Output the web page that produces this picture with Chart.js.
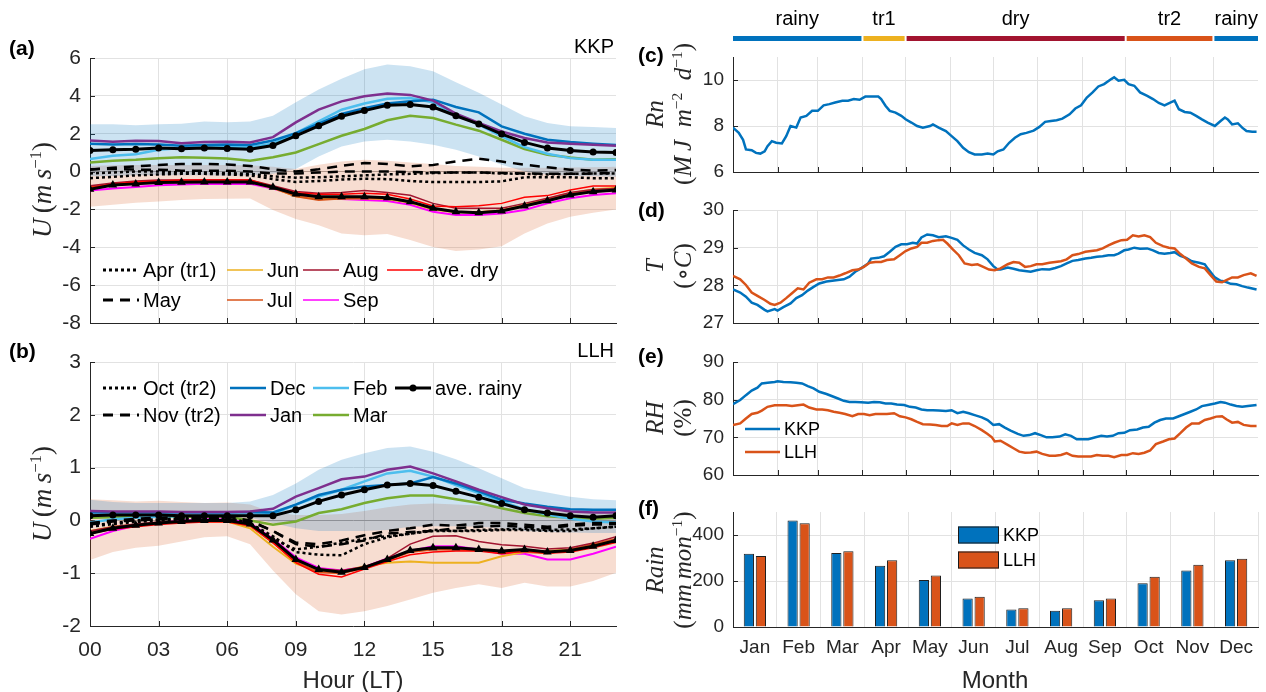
<!DOCTYPE html>
<html lang="en">
<head>
<meta charset="UTF-8">
<title>KKP / LLH - vento diurno e clima anual</title>
<script src="https://cdn.jsdelivr.net/npm/chart.js"></script>
<style>
  body { margin: 0; background: #fff; }
  #fig { position: relative; width: 1266px; height: 692px; overflow: hidden; font-family: "Liberation Sans", Arial, sans-serif; color: #262626; }
  #fig canvas { position: absolute; }
  .tag { position: absolute; font-weight: bold; font-size: 21px; color: #000; line-height: 22px; }
  .site { position: absolute; font-size: 20px; color: #000; line-height: 22px; }
  .ylab { position: absolute; transform: translate(-50%, -50%) rotate(-90deg); white-space: nowrap; text-align: center;
          font-family: "Liberation Serif", "DejaVu Serif", serif; font-size: 27px; line-height: 28px; color: #262626; }
  .ylab.two { font-size: 25px; }
  .ylab sup { font-size: 0.62em; vertical-align: 0.6em; line-height: 0; }
  .xlab { position: absolute; transform: translate(-50%, -50%); font-size: 24px; white-space: nowrap; color: #262626; }
</style>
</head>
<body>
<div id="fig">
  <canvas id="cA" width="640" height="340" style="left:0;top:0"></canvas>
  <canvas id="cB" width="640" height="352" style="left:0;top:340px"></canvas>
  <canvas id="cC" width="626" height="180" style="left:640px;top:0"></canvas>
  <canvas id="cD" width="626" height="151" style="left:640px;top:180px"></canvas>
  <canvas id="cE" width="626" height="152" style="left:640px;top:331px"></canvas>
  <canvas id="cF" width="626" height="209" style="left:640px;top:483px"></canvas>

  <div class="tag" style="left:9px;top:37px">(a)</div>
  <div class="tag" style="left:9px;top:340px">(b)</div>
  <div class="tag" style="left:638px;top:44px">(c)</div>
  <div class="tag" style="left:638px;top:199px">(d)</div>
  <div class="tag" style="left:638px;top:345px">(e)</div>
  <div class="tag" style="left:638px;top:497px">(f)</div>
  <div class="site" style="right:652px;top:35px">KKP</div>
  <div class="site" style="right:652px;top:339px">LLH</div>

  <div class="ylab" style="left:42px;top:190px"><i>U</i>&thinsp;(<i>m</i>&thinsp;<i>s</i><sup>−1</sup>)</div>
  <div class="ylab" style="left:42px;top:494px"><i>U</i>&thinsp;(<i>m</i>&thinsp;<i>s</i><sup>−1</sup>)</div>
  <div class="ylab two" style="left:669px;top:114px"><i>Rn</i><br>(<i>M</i>&thinsp;<i>J</i>&ensp;<i>m</i><sup>−2</sup>&ensp;<i>d</i><sup>−1</sup>)</div>
  <div class="ylab two" style="left:669px;top:266px"><i>T</i><br>(∘<i>C</i>)</div>
  <div class="ylab two" style="left:669px;top:418px"><i>RH</i><br>(%)</div>
  <div class="ylab two" style="left:669px;top:570px"><i>Rain</i><br>(<i>mm</i>&thinsp;<i>mon</i><sup>−1</sup>)</div>
  <div class="xlab" style="left:353px;top:680px">Hour (LT)</div>
  <div class="xlab" style="left:995px;top:680px">Month</div>
</div>

<script>
// ---------- diurnal wind, hours 00..23 ----------
const hours = [0,1,2,3,4,5,6,7,8,9,10,11,12,13,14,15,16,17,18,19,20,21,22,23];
const hourTicks = [0,3,6,9,12,15,18,21];
const uTicksA = [-8,-6,-4,-2,0,2,4,6];
const uTicksB = [-2,-1,0,1,2,3];

// KKP
const kkpWetHi = [2.5,2.5,2.45,2.5,2.53,2.65,2.6,2.65,2.95,3.66,4.33,4.9,5.4,5.66,5.57,5.3,4.72,4.16,3.54,2.92,2.57,2.39,2.36,2.3];
const kkpWetLo = [-0.25,-0.23,-0.2,-0.2,-0.2,-0.2,-0.22,-0.2,-0.12,0.14,0.8,1.33,1.59,1.68,1.59,1.42,1.15,0.8,0.36,0.0,-0.15,-0.22,-0.25,-0.27];
const kkpDryHi = [0.3,0.33,0.35,0.35,0.35,0.35,0.35,0.33,0.25,0.13,0.36,0.53,0.62,0.57,0.48,0.4,0.3,0.25,0.2,0.2,0.2,0.22,0.23,0.25];
const kkpDryLo = [-1.86,-1.75,-1.65,-1.58,-1.5,-1.45,-1.43,-1.42,-2.03,-2.5,-2.83,-3.27,-3.36,-3.3,-3.62,-3.98,-4.19,-4.12,-3.94,-3.27,-2.74,-2.39,-2.17,-2.0];
const kkpDec = [1.47,1.43,1.45,1.43,1.36,1.41,1.43,1.41,1.64,2.03,2.53,3.04,3.35,3.6,3.72,3.8,3.41,3.13,2.39,2.0,1.68,1.56,1.47,1.4];
const kkpJan = [1.64,1.57,1.63,1.61,1.49,1.56,1.57,1.54,1.82,2.6,3.27,3.71,3.98,4.13,4.05,3.75,3.06,2.57,2.12,1.77,1.54,1.47,1.42,1.36];
const kkpFeb = [0.67,0.83,0.92,1.15,1.24,1.27,1.33,1.29,1.47,2.03,2.65,3.27,3.6,3.85,3.89,3.66,3.0,2.48,1.86,1.29,0.94,0.71,0.62,0.62];
const kkpMar = [0.48,0.57,0.62,0.71,0.76,0.73,0.69,0.57,0.76,1.01,1.45,1.89,2.25,2.71,2.95,2.83,2.48,2.16,1.68,1.19,0.89,0.74,0.62,0.65];
const kkpRainy = [1.11,1.15,1.18,1.24,1.2,1.24,1.22,1.18,1.38,1.89,2.42,2.92,3.22,3.5,3.54,3.41,2.95,2.51,1.98,1.54,1.24,1.11,1.03,1.01];
const kkpApr = [-0.35,-0.28,-0.2,-0.15,-0.12,-0.12,-0.15,-0.2,-0.4,-0.55,-0.5,-0.42,-0.38,-0.4,-0.5,-0.55,-0.55,-0.55,-0.52,-0.3,-0.3,-0.3,-0.35,-0.35];
const kkpMay = [0.1,0.2,0.28,0.35,0.4,0.4,0.38,0.3,0.12,0.0,0.12,0.3,0.45,0.4,0.28,0.35,0.53,0.68,0.53,0.36,0.23,0.1,0.05,0.08];
const kkpOct = [-0.1,-0.05,0.0,0.0,-0.05,-0.05,-0.08,-0.12,-0.25,-0.32,-0.3,-0.25,-0.2,-0.15,-0.12,-0.08,-0.05,-0.05,-0.1,-0.12,-0.15,-0.12,-0.1,-0.1];
const kkpNov = [0.12,0.15,0.1,0.1,0.05,0.05,0.05,0.0,-0.1,-0.1,-0.05,0.0,0.0,0.0,-0.02,-0.05,-0.05,-0.05,-0.08,-0.1,-0.12,-0.12,-0.1,-0.08];
const kkpJun = [-0.85,-0.72,-0.63,-0.56,-0.55,-0.53,-0.53,-0.55,-0.87,-1.3,-1.45,-1.42,-1.42,-1.45,-1.65,-2.0,-2.15,-2.15,-2.05,-1.75,-1.45,-1.15,-0.95,-0.85];
const kkpJul = [-0.8,-0.68,-0.6,-0.55,-0.52,-0.5,-0.5,-0.52,-0.85,-1.3,-1.5,-1.42,-1.4,-1.42,-1.6,-1.95,-2.12,-2.15,-2.05,-1.8,-1.5,-1.2,-1.0,-0.9];
const kkpAug = [-0.75,-0.6,-0.5,-0.45,-0.45,-0.43,-0.43,-0.45,-0.75,-1.05,-1.15,-1.1,-1.0,-1.1,-1.25,-1.68,-1.94,-1.94,-1.94,-1.68,-1.41,-1.11,-0.95,-0.9];
const kkpSep = [-1.0,-0.9,-0.82,-0.72,-0.68,-0.65,-0.65,-0.65,-0.9,-1.25,-1.42,-1.45,-1.5,-1.55,-1.75,-2.12,-2.3,-2.3,-2.21,-2.03,-1.68,-1.41,-1.24,-1.15];
const kkpAveDry = [-0.85,-0.65,-0.55,-0.5,-0.45,-0.45,-0.45,-0.45,-0.8,-1.12,-1.2,-1.2,-1.15,-1.2,-1.45,-1.82,-1.86,-1.8,-1.68,-1.36,-1.27,-0.97,-0.76,-0.76];
const kkpDryTri = [-0.94,-0.71,-0.65,-0.58,-0.57,-0.55,-0.55,-0.55,-0.83,-1.18,-1.33,-1.33,-1.33,-1.38,-1.59,-1.94,-2.12,-2.17,-2.08,-1.82,-1.54,-1.24,-1.06,-0.97];

// LLH
const llhWetHi = [0.39,0.35,0.33,0.33,0.33,0.33,0.33,0.36,0.48,0.7,0.96,1.15,1.27,1.37,1.4,1.3,1.16,0.99,0.8,0.61,0.53,0.45,0.4,0.38];
const llhWetLo = [0.08,0.1,0.1,0.1,0.1,0.1,0.1,0.05,-0.05,-0.15,-0.2,-0.2,-0.2,-0.18,-0.12,-0.11,-0.11,-0.12,-0.15,-0.2,-0.22,-0.23,-0.24,-0.24];
const llhDryHi = [0.4,0.38,0.36,0.37,0.35,0.33,0.34,0.3,0.15,0.1,0.1,0.12,0.18,0.25,0.3,0.32,0.3,0.28,0.25,0.2,0.18,0.17,0.17,0.17];
const llhDryLo = [-0.75,-0.6,-0.52,-0.48,-0.4,-0.32,-0.3,-0.45,-0.95,-1.4,-1.72,-1.78,-1.72,-1.62,-1.5,-1.37,-1.28,-1.21,-1.28,-1.18,-1.25,-1.25,-1.15,-0.99];
const llhDec = [0.15,0.15,0.15,0.15,0.15,0.15,0.15,0.16,0.15,0.3,0.48,0.58,0.64,0.67,0.7,0.82,0.7,0.55,0.39,0.32,0.26,0.21,0.2,0.2];
const llhJan = [0.18,0.17,0.17,0.17,0.16,0.16,0.16,0.17,0.22,0.45,0.61,0.78,0.83,0.96,1.02,0.89,0.74,0.58,0.44,0.3,0.23,0.17,0.15,0.15];
const llhFeb = [-0.04,0.02,0.05,0.07,0.08,0.1,0.1,0.1,0.12,0.3,0.45,0.58,0.74,0.89,0.94,0.83,0.67,0.52,0.36,0.21,0.11,0.03,-0.02,-0.04];
const llhMar = [0.05,0.06,0.07,0.07,0.07,0.07,0.07,0.0,-0.08,-0.02,0.14,0.21,0.33,0.42,0.47,0.47,0.4,0.33,0.23,0.14,0.08,0.05,0.03,0.05];
const llhRainy = [0.09,0.1,0.1,0.1,0.09,0.09,0.09,0.09,0.09,0.2,0.36,0.48,0.58,0.67,0.7,0.66,0.55,0.44,0.32,0.2,0.14,0.09,0.06,0.09];
const llhApr = [-0.12,-0.07,-0.03,0.0,0.02,0.03,0.03,-0.05,-0.35,-0.55,-0.5,-0.42,-0.35,-0.3,-0.25,-0.18,-0.2,-0.18,-0.17,-0.16,-0.18,-0.17,-0.15,-0.12];
const llhMay = [-0.08,-0.02,0.0,0.02,0.03,0.03,0.02,-0.02,-0.2,-0.45,-0.5,-0.45,-0.38,-0.25,-0.22,-0.2,-0.15,-0.12,-0.1,-0.12,-0.15,-0.1,-0.08,-0.07];
const llhOct = [-0.1,-0.05,0.0,0.02,0.04,0.05,0.05,-0.05,-0.3,-0.6,-0.65,-0.66,-0.45,-0.32,-0.25,-0.2,-0.2,-0.2,-0.18,-0.18,-0.2,-0.2,-0.15,-0.12];
const llhNov = [-0.05,0.0,0.03,0.05,0.06,0.07,0.07,0.0,-0.2,-0.42,-0.45,-0.38,-0.28,-0.2,-0.15,-0.08,-0.1,-0.05,-0.05,-0.08,-0.12,-0.08,-0.05,-0.05];
const llhJun = [-0.2,-0.12,-0.08,-0.05,-0.03,-0.02,-0.02,-0.15,-0.5,-0.82,-0.97,-0.97,-0.87,-0.8,-0.78,-0.8,-0.8,-0.8,-0.68,-0.6,-0.58,-0.55,-0.48,-0.4];
const llhJul = [-0.22,-0.14,-0.09,-0.05,-0.03,-0.01,-0.01,-0.1,-0.42,-0.78,-0.98,-1.0,-0.9,-0.75,-0.6,-0.55,-0.55,-0.57,-0.6,-0.6,-0.62,-0.55,-0.45,-0.35];
const llhAug = [-0.2,-0.12,-0.07,-0.03,-0.01,0.0,0.0,-0.08,-0.4,-0.75,-0.92,-0.95,-0.88,-0.72,-0.45,-0.3,-0.29,-0.4,-0.46,-0.49,-0.54,-0.52,-0.43,-0.31];
const llhSep = [-0.35,-0.2,-0.1,-0.05,0.0,0.02,0.02,-0.05,-0.35,-0.7,-0.9,-0.95,-0.88,-0.72,-0.58,-0.49,-0.49,-0.55,-0.63,-0.63,-0.74,-0.74,-0.63,-0.5];
const llhAveDry = [-0.25,-0.17,-0.12,-0.08,-0.05,-0.03,-0.03,-0.1,-0.42,-0.8,-1.02,-1.07,-0.92,-0.78,-0.65,-0.6,-0.58,-0.58,-0.63,-0.58,-0.62,-0.6,-0.52,-0.42];
const llhDryTri = [-0.25,-0.15,-0.09,-0.05,-0.02,0.0,0.0,-0.07,-0.37,-0.74,-0.93,-0.98,-0.89,-0.74,-0.57,-0.52,-0.52,-0.55,-0.58,-0.55,-0.6,-0.57,-0.49,-0.38];

// ---------- annual cycle, day of year ----------
const monthStart = [1,32,60,91,121,152,182,213,244,274,305,335];
const seasonName = ['rainy','tr1','dry','tr2','rainy'];
const seasonFrom = [1,91,121,274,335];
const seasonTo = [91,121,274,335,366];
const seasonColor = ['#0072BD','#EDB120','#A2142F','#D95319','#0072BD'];

const rnTicks = [6,8,10];
const rnDay = [1,5,8,10,14,17,20,23,25,28,31,35,38,41,45,48,52,56,60,64,68,72,77,81,85,89,93,97,102,104,107,110,114,118,121,125,129,133,138,140,144,149,153,157,161,165,169,174,178,182,185,189,193,197,201,205,210,214,218,222,226,230,235,239,243,247,251,255,259,264,266,269,273,276,280,284,289,293,297,301,305,308,311,315,319,323,327,331,336,340,343,345,348,352,355,358,362,365];
const rnVal = [7.93,7.7,7.4,6.98,6.95,6.83,6.8,6.9,7.12,7.34,7.27,7.24,7.56,8.0,7.93,8.37,8.44,8.66,8.66,8.9,8.95,9.02,9.1,9.1,9.17,9.14,9.28,9.28,9.28,9.17,8.88,8.66,8.58,8.44,8.29,8.15,8.0,7.93,8.0,8.07,7.93,7.78,7.56,7.34,7.05,6.86,6.76,6.76,6.8,6.76,6.9,6.98,7.27,7.49,7.64,7.7,7.8,7.96,8.18,8.22,8.25,8.32,8.51,8.76,8.9,9.24,9.46,9.72,9.82,10.04,10.12,9.97,10.01,9.82,9.75,9.46,9.31,9.17,9.0,8.9,9.02,9.1,8.73,8.61,8.58,8.44,8.29,8.15,8.0,8.22,8.37,8.29,8.07,8.12,7.93,7.78,7.75,7.75];

const tTicks = [27,28,29,30];
const tKkpDay = [1,6,10,14,18,23,25,30,32,36,41,45,49,53,57,61,66,70,74,78,82,86,90,95,97,102,106,110,114,118,122,126,129,132,136,140,144,149,153,157,161,165,169,174,178,182,185,187,192,196,200,204,208,212,216,221,225,229,233,237,241,246,250,254,258,262,266,269,273,276,280,284,289,293,297,301,305,308,312,316,320,325,329,331,336,340,343,347,351,355,359,365];
const tKkp = [27.89,27.81,27.7,27.54,27.48,27.35,27.31,27.37,27.33,27.42,27.52,27.66,27.74,27.86,27.96,28.05,28.1,28.12,28.14,28.16,28.23,28.36,28.45,28.58,28.71,28.73,28.77,28.89,29.02,29.09,29.09,29.13,29.11,29.27,29.35,29.33,29.28,29.3,29.26,29.21,29.06,28.95,28.86,28.8,28.69,28.51,28.42,28.42,28.47,28.44,28.4,28.38,28.36,28.4,28.43,28.42,28.46,28.51,28.58,28.65,28.67,28.71,28.73,28.76,28.77,28.8,28.8,28.84,28.93,28.95,29.0,28.97,28.98,28.93,28.86,28.84,28.86,28.88,28.78,28.73,28.64,28.6,28.56,28.45,28.21,28.12,28.1,28.04,28.03,27.98,27.94,27.89];
const tLlhDay = [1,6,10,14,18,23,27,30,34,38,42,46,50,54,59,63,67,71,75,79,84,88,92,96,100,104,108,113,117,121,125,129,132,136,140,144,147,150,154,158,162,167,171,175,179,183,187,192,196,200,204,208,212,216,221,225,229,233,237,241,246,250,254,258,262,266,271,275,279,283,287,291,295,300,304,308,312,316,320,325,329,333,337,341,344,348,352,356,361,365];
const tLlh = [28.25,28.16,28.01,27.81,27.72,27.61,27.51,27.48,27.54,27.66,27.79,27.92,27.89,28.07,28.16,28.16,28.21,28.21,28.26,28.32,28.4,28.42,28.49,28.6,28.62,28.62,28.67,28.69,28.8,28.91,28.98,29.02,29.13,29.13,29.18,29.2,29.21,29.11,28.95,28.8,28.58,28.54,28.56,28.49,28.42,28.4,28.45,28.56,28.62,28.6,28.49,28.51,28.56,28.56,28.6,28.62,28.64,28.69,28.8,28.83,28.89,28.91,28.93,28.98,29.06,29.13,29.2,29.21,29.33,29.3,29.33,29.28,29.13,29.04,29.0,28.98,28.83,28.71,28.58,28.49,28.45,28.27,28.1,28.08,28.14,28.21,28.21,28.27,28.32,28.25];

const rhTicks = [60,70,80,90];
const rhKkpDay = [1,6,10,14,18,21,25,30,32,36,41,45,49,53,57,61,66,70,74,78,82,86,90,95,99,103,107,111,115,120,124,128,132,136,140,144,149,153,157,161,165,169,174,178,182,186,190,194,199,203,207,211,215,219,223,228,232,236,240,244,248,253,257,261,265,269,273,277,282,286,290,294,298,302,307,311,315,319,323,327,331,336,340,343,347,351,355,359,365];
const rhKkp = [78.8,79.9,81.2,82.4,83.2,84.3,84.5,84.7,84.9,84.7,84.6,84.5,84.3,83.6,83.0,82.1,81.5,80.9,80.3,79.7,79.4,79.4,79.3,79.2,79.4,79.3,79.0,79.0,78.7,78.6,78.1,77.9,77.4,77.2,77.2,77.1,77.0,77.2,76.4,76.8,76.4,75.9,75.3,74.6,73.3,73.5,72.6,71.8,70.9,70.4,70.6,71.1,70.6,70.0,70.0,70.2,70.8,70.4,69.5,69.5,69.5,70.0,70.4,70.2,70.4,71.1,71.2,71.9,72.1,72.6,72.8,73.9,74.6,75.0,75.0,75.6,76.2,76.8,77.4,78.3,78.6,79.0,79.4,79.2,78.7,78.3,78.1,78.3,78.6];
const rhLlhDay = [1,6,10,14,18,21,25,30,34,38,42,46,50,54,59,63,67,71,75,79,84,88,92,96,100,104,108,113,117,121,125,129,133,138,142,146,150,153,157,161,165,169,174,178,181,183,187,192,196,200,204,208,212,216,221,225,229,233,237,241,246,250,254,258,262,266,271,275,279,283,287,291,295,300,304,308,312,316,320,325,329,333,337,341,344,348,352,356,361,365];
const rhLlh = [73.3,73.7,75.0,76.2,76.5,77.1,78.1,78.5,78.5,78.5,78.3,78.5,78.7,77.9,77.4,77.4,77.2,76.8,76.5,76.2,75.6,76.2,76.2,75.9,76.2,76.2,76.2,76.4,75.6,75.3,74.8,74.1,73.5,73.4,73.3,73.0,73.0,73.7,73.3,73.7,73.7,73.0,71.9,70.9,70.0,68.9,69.1,68.0,67.1,66.2,65.9,66.0,66.2,65.6,65.1,65.1,65.3,65.8,65.1,64.9,64.9,64.9,65.3,65.1,65.1,64.7,65.3,65.3,65.8,65.6,65.9,66.5,68.2,68.9,69.5,69.7,71.1,72.6,73.7,73.7,74.6,75.0,75.5,75.6,74.8,73.9,74.1,73.3,73.0,73.0];

const months = ['Jan','Feb','Mar','Apr','May','Jun','Jul','Aug','Sep','Oct','Nov','Dec'];
const rainTicks = [0,200,400];
const rainKkp = [319,463,322,266,204,124,76,71,116,190,246,290];
const rainLlh = [309,451,329,290,224,132,81,81,124,219,271,297];

// ---------- styling ----------
const ink = '#262626';
const gridC = '#e2e2e2';
const sans = '"Liberation Sans", Arial, sans-serif';
const blue = '#0072BD', orange = '#D95319';
const dotted = [3, 3], dashed = [10, 7];

// legend drawn inside the plot area, positions relative to chartArea
const keyPlugin = {
  id: 'key',
  afterDraw(chart, args, o) {
    if (!o.items) return;
    const ctx = chart.ctx, a = chart.chartArea;
    ctx.save();
    ctx.font = o.size + 'px ' + sans;
    ctx.textBaseline = 'middle';
    o.items.forEach(it => {
      const x = a.left + it.x, y = a.top + it.y;
      if (it.box) {
        ctx.fillStyle = it.color;
        ctx.fillRect(x, y - 8.5, o.len, 17);
        ctx.strokeStyle = '#1a1a1a'; ctx.lineWidth = 1;
        ctx.strokeRect(x + 0.5, y - 8, o.len - 1, 16);
      } else {
        ctx.strokeStyle = it.color; ctx.lineWidth = it.width;
        ctx.setLineDash(it.dash || []);
        ctx.beginPath(); ctx.moveTo(x, y); ctx.lineTo(x + o.len, y); ctx.stroke();
        ctx.setLineDash([]);
        if (it.dot) {
          ctx.fillStyle = it.color;
          ctx.beginPath(); ctx.arc(x + o.len / 2, y, 3.5, 0, Math.PI * 2); ctx.fill();
        }
      }
      ctx.fillStyle = '#000';
      ctx.fillText(it.text, x + o.len + 4, y + 1);
    });
    ctx.restore();
  }
};

// short tick marks pointing into the plot
const inTicks = {
  id: 'inTicks',
  beforeDatasetsDraw(chart, args, o) {
    const { ctx, chartArea: a, scales } = chart;
    ctx.save();
    ctx.strokeStyle = ink; ctx.lineWidth = 1;
    ctx.beginPath();
    if (o.x !== false) {
      scales.x.ticks.forEach(t => {
        const p = Math.round(scales.x.getPixelForValue(t.value)) + 0.5;
        ctx.moveTo(p, a.bottom); ctx.lineTo(p, a.bottom - 5);
      });
    }
    scales.y.ticks.forEach(t => {
      const p = Math.round(scales.y.getPixelForValue(t.value)) + 0.5;
      ctx.moveTo(a.left, p); ctx.lineTo(a.left + 5, p);
    });
    ctx.stroke();
    ctx.restore();
  }
};

// season strip above the Rn panel
const seasonStrip = {
  id: 'seasonStrip',
  afterDraw(chart) {
    const ctx = chart.ctx, xs = chart.scales.x, top = chart.chartArea.top;
    ctx.save();
    ctx.font = '20px ' + sans;
    ctx.textAlign = 'center';
    ctx.textBaseline = 'middle';
    seasonName.forEach((name, i) => {
      const x0 = xs.getPixelForValue(seasonFrom[i]) + (i ? 1 : 0);
      const x1 = xs.getPixelForValue(seasonTo[i]) - (i < seasonName.length - 1 ? 1 : 0);
      ctx.fillStyle = seasonColor[i];
      ctx.fillRect(x0, top - 21, x1 - x0, 5);
      ctx.fillStyle = '#000';
      ctx.fillText(name, (x0 + x1) / 2, top - 38);
    });
    ctx.restore();
  }
};

function pts(xs, ys) { return xs.map((x, i) => ({ x: x, y: ys[i] })); }

function line(xs, ys, color, width, dash, order, extra) {
  return Object.assign({
    data: pts(xs, ys), borderColor: color, borderWidth: width, borderDash: dash || [],
    pointRadius: 0, fill: false, tension: 0, order: order
  }, extra || {});
}

function band(ys, fill, color, order) {
  return { data: pts(hours, ys), borderColor: 'rgba(0,0,0,0)', borderWidth: 1, pointRadius: 0,
           fill: fill, backgroundColor: color, order: order };
}

function uSets(s) {
  return [
    band(s.wetLo, false, 'rgba(0,0,0,0)', 90),
    band(s.wetHi, '-1', 'rgba(0,114,189,0.2)', 90),
    band(s.dryLo, false, 'rgba(0,0,0,0)', 91),
    band(s.dryHi, '-1', 'rgba(217,83,25,0.2)', 91),
    line(hours, s.mar, '#77AC30', 2.5, null, 30),
    line(hours, s.feb, '#4DBEEE', 2.5, null, 29),
    line(hours, s.dec, '#0072BD', 2.5, null, 28),
    line(hours, s.jan, '#7E2F8E', 2.5, null, 27),
    line(hours, s.sep, '#FF00FF', 2, null, 26),
    line(hours, s.jun, '#EDB120', 2, null, 25),
    line(hours, s.jul, '#D95319', 2, null, 24),
    line(hours, s.aug, '#A2142F', 1.5, null, 23),
    line(hours, s.oct, '#000', 2.5, dotted, 20),
    line(hours, s.nov, '#000', 2.5, dashed, 19),
    line(hours, s.apr, '#000', 2.5, dotted, 18),
    line(hours, s.may, '#000', 2.5, dashed, 17),
    line(hours, s.aveDry, '#FF0000', 1.5, null, 10),
    line(hours, s.rainy, '#000', 3, null, 5, { pointRadius: 3.5, pointBackgroundColor: '#000', pointBorderColor: '#000', pointBorderWidth: 0 }),
    line(hours, s.dryTri, '#000', 3, null, 4, { pointRadius: 5, pointStyle: 'triangle', pointBackgroundColor: '#000', pointBorderColor: '#000', pointBorderWidth: 0 })
  ];
}

function yLin(min, max, ticks, w, size, zero) {
  return {
    min: min, max: max,
    afterBuildTicks: s => { s.ticks = ticks.map(v => ({ value: v })); },
    afterFit: s => { s.width = w; s.paddingTop = 0; s.paddingBottom = 0; },
    ticks: { color: ink, font: { family: sans, size: size }, padding: 9 },
    grid: { color: c => (zero && c.tick && c.tick.value === 0) ? '#a9a9a9' : gridC, drawTicks: false },
    border: { color: ink }
  };
}

function xHour(labels, h) {
  return {
    type: 'linear', min: 0, max: 23,
    afterBuildTicks: s => { s.ticks = hourTicks.map(v => ({ value: v })); },
    afterFit: s => { s.height = h; s.paddingLeft = 0; s.paddingRight = 0; },
    ticks: { display: labels, autoSkip: false, maxRotation: 0, color: ink, font: { family: sans, size: 21 }, padding: 12,
             callback: v => String(v).padStart(2, '0') },
    grid: { color: gridC, drawTicks: false },
    border: { color: ink }
  };
}

function xDay(h) {
  return {
    type: 'linear', min: 1, max: 366,
    afterBuildTicks: s => { s.ticks = monthStart.slice(1).map(v => ({ value: v })); },
    afterFit: s => { s.height = h; s.paddingLeft = 0; s.paddingRight = 0; },
    ticks: { display: false },
    grid: { color: gridC, drawTicks: false },
    border: { color: ink }
  };
}

function base(padTop, padRight, key, more) {
  return Object.assign({
    responsive: false, animation: false,
    layout: { padding: { top: padTop, right: padRight, bottom: 0, left: 0 } },
    plugins: { legend: { display: false }, tooltip: { enabled: false }, key: key || {}, inTicks: {} }
  }, more);
}

// (a) KKP diurnal wind
new Chart(document.getElementById('cA'), {
  type: 'line',
  data: { datasets: uSets({ wetLo: kkpWetLo, wetHi: kkpWetHi, dryLo: kkpDryLo, dryHi: kkpDryHi,
    dec: kkpDec, jan: kkpJan, feb: kkpFeb, mar: kkpMar, rainy: kkpRainy, apr: kkpApr, may: kkpMay,
    oct: kkpOct, nov: kkpNov, jun: kkpJun, jul: kkpJul, aug: kkpAug, sep: kkpSep, aveDry: kkpAveDry, dryTri: kkpDryTri }) },
  options: base(58, 24, {
    len: 36, size: 20,
    items: [
      { x: 13, y: 212, text: 'Apr (tr1)', color: '#000', width: 3, dash: dotted },
      { x: 13, y: 242, text: 'May', color: '#000', width: 3, dash: dashed },
      { x: 137, y: 212, text: 'Jun', color: '#EDB120', width: 1.5 },
      { x: 137, y: 242, text: 'Jul', color: '#D95319', width: 1.5 },
      { x: 213, y: 212, text: 'Aug', color: '#A2142F', width: 1.5 },
      { x: 213, y: 242, text: 'Sep', color: '#FF00FF', width: 1.5 },
      { x: 297, y: 212, text: 'ave. dry', color: '#FF0000', width: 1.5 }
    ]
  }, { scales: { x: xHour(false, 17), y: yLin(-8, 6, uTicksA, 90, 21, true) } }),
  plugins: [keyPlugin, inTicks]
});

// (b) LLH diurnal wind
new Chart(document.getElementById('cB'), {
  type: 'line',
  data: { datasets: uSets({ wetLo: llhWetLo, wetHi: llhWetHi, dryLo: llhDryLo, dryHi: llhDryHi,
    dec: llhDec, jan: llhJan, feb: llhFeb, mar: llhMar, rainy: llhRainy, apr: llhApr, may: llhMay,
    oct: llhOct, nov: llhNov, jun: llhJun, jul: llhJul, aug: llhAug, sep: llhSep, aveDry: llhAveDry, dryTri: llhDryTri }) },
  options: base(22, 24, {
    len: 36, size: 20,
    items: [
      { x: 13, y: 26, text: 'Oct (tr2)', color: '#000', width: 3, dash: dotted },
      { x: 13, y: 53, text: 'Nov (tr2)', color: '#000', width: 3, dash: dashed },
      { x: 140, y: 26, text: 'Dec', color: '#0072BD', width: 2.5 },
      { x: 140, y: 53, text: 'Jan', color: '#7E2F8E', width: 2.5 },
      { x: 223, y: 26, text: 'Feb', color: '#4DBEEE', width: 2.5 },
      { x: 223, y: 53, text: 'Mar', color: '#77AC30', width: 2.5 },
      { x: 305, y: 26, text: 'ave. rainy', color: '#000', width: 3, dot: true }
    ]
  }, { scales: { x: xHour(true, 66), y: yLin(-2, 3, uTicksB, 90, 21, true) } }),
  plugins: [keyPlugin, inTicks]
});

// (c) net radiation with season strip
new Chart(document.getElementById('cC'), {
  type: 'line',
  data: { datasets: [ line(rnDay, rnVal, blue, 2.5, null, 1) ] },
  options: base(57, 8, null, { scales: { x: xDay(8), y: yLin(6, 11, rnTicks, 93, 19, false) } }),
  plugins: [inTicks, seasonStrip]
});

// (d) air temperature
new Chart(document.getElementById('cD'), {
  type: 'line',
  data: { datasets: [ line(tKkpDay, tKkp, blue, 2.5, null, 2), line(tLlhDay, tLlh, orange, 2.5, null, 1) ] },
  options: base(30, 8, null, { scales: { x: xDay(8), y: yLin(27, 30, tTicks, 93, 19, false) } }),
  plugins: [inTicks]
});

// (e) relative humidity
new Chart(document.getElementById('cE'), {
  type: 'line',
  data: { datasets: [ line(rhKkpDay, rhKkp, blue, 2.5, null, 2), line(rhLlhDay, rhLlh, orange, 2.5, null, 1) ] },
  options: base(31, 8, {
    len: 35, size: 18,
    items: [
      { x: 12, y: 67, text: 'KKP', color: blue, width: 2.5 },
      { x: 12, y: 90, text: 'LLH', color: orange, width: 2.5 }
    ]
  }, { scales: { x: xDay(8), y: yLin(60, 90, rhTicks, 93, 19, false) } }),
  plugins: [keyPlugin, inTicks]
});

// (f) monthly rainfall
new Chart(document.getElementById('cF'), {
  type: 'bar',
  data: {
    labels: months,
    datasets: [
      { data: rainKkp, backgroundColor: blue, borderColor: '#1f1f1f', borderWidth: 1, categoryPercentage: 0.55, barPercentage: 0.85 },
      { data: rainLlh, backgroundColor: orange, borderColor: '#1f1f1f', borderWidth: 1, categoryPercentage: 0.55, barPercentage: 0.85 }
    ]
  },
  options: base(29, 8, null, {
    plugins: { legend: { display: false }, tooltip: { enabled: false },
      key: { len: 41, size: 18, items: [
        { x: 225, y: 23, text: 'KKP', color: blue, box: true },
        { x: 225, y: 48, text: 'LLH', color: orange, box: true } ] },
      inTicks: { x: false } },
    scales: {
      x: {
        afterFit: s => { s.height = 65; s.paddingLeft = 0; s.paddingRight = 0; },
        ticks: { color: ink, font: { family: sans, size: 19 }, padding: 9, maxRotation: 0, autoSkip: false },
        grid: { color: gridC, drawTicks: false, offset: true },
        border: { color: ink }
      },
      y: yLin(0, 500, rainTicks, 93, 19, false)
    }
  }),
  plugins: [keyPlugin, inTicks]
});
</script>
</body>
</html>
